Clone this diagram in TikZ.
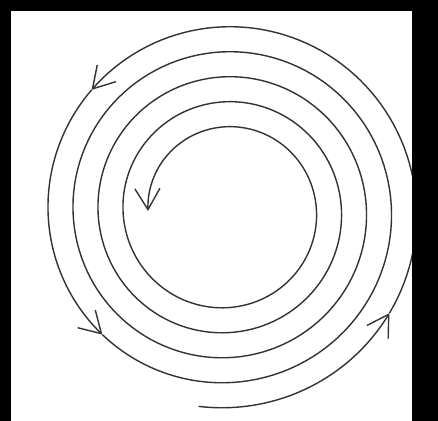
\documentclass[tikz,border=0pt]{standalone}
\usetikzlibrary{arrows.meta}

\begin{document}
\begin{tikzpicture}[x=0.02cm, y=0.02cm,
  >={Straight Barb[length=4.2mm, width=5mm]},
  spiral/.style={black!80, line width=0.8pt, variable=\t}]

%% ============================================================
%% Frame: black surround, white drawing area
%% ============================================================
\fill[black] (0,0) rectangle (438,421);
\fill[white] (11,0) rectangle (412,410);

%% ---- Spiral parameters ----
\def\cx{226}      % centre x
\def\cy{210}      % centre y
\def\rOut{190.5}  % radius at angle 0
\def\pitch{25}    % gap per turn

\coordinate (O) at (\cx,\cy);

%% ---- Spiral, wound inwards, with arrows along it ----
\begin{scope}
\clip (11,0) rectangle (412,410);
\foreach \a/\b/\n in {-98/-32/30, -32/138/70, 138/225/40, 225/1620/500} {
  \draw[spiral, ->] plot[domain=\a:\b, samples=\n]
    ({\cx+(\rOut-\pitch/360*\t)*cos(\t)}, {\cy+(\rOut-\pitch/360*\t)*sin(\t)});
}
\end{scope}

\end{tikzpicture}
\end{document}
